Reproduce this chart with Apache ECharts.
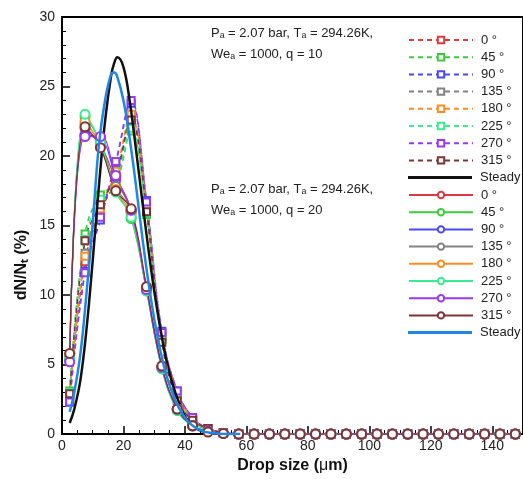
<!DOCTYPE html>
<html>
<head>
<meta charset="utf-8">
<script src="https://cdn.jsdelivr.net/npm/echarts@6/dist/echarts.min.js"></script>
<style>html,body{margin:0;padding:0;background:#fff}#c{width:523px;height:479px}</style>
</head>
<body>
<div id="c"></div>
<script>
// Drop size bins (µm)
const dropSize = [2.5,7.5,12.5,17.5,22.5,27.5,32.5,37.5,42.5,47.5,52.5,57.5,62.5,67.5,72.5,77.5,82.5,87.5,92.5,97.5,102.5,107.5,112.5,117.5,122.5,127.5,132.5,137.5,142.5,147.5];
const angleNames = ['0 °','45 °','90 °','135 °','180 °','225 °','270 °','315 °'];
const angleColors = ['#dc3a3e','#3acb3a','#4848f8','#828282','#ff8c20','#38ec90','#9a38f4','#7e3434'];
// q = 10 (dashed, squares) - first 12 bins, rest zero
const q10_0   = [2.8,12.4,16.0,18.3,22.6,16.3,7.0,2.9,1.0,0.4,0.1,0];
const q10_45  = [3.1,14.4,17.2,18.0,21.8,15.8,6.8,2.7,0.9,0.3,0.1,0];
const q10_90  = [2.3,11.7,15.4,19.5,23.8,16.8,7.4,3.1,1.2,0.4,0.1,0];
const q10_135 = [2.7,13.0,16.3,18.7,22.9,16.2,7.0,2.9,1.0,0.4,0.1,0];
const q10_180 = [2.6,12.8,16.2,18.9,23.0,16.4,7.1,3.0,1.0,0.4,0.1,0];
const q10_225 = [3.0,14.0,16.9,18.2,22.0,15.9,6.8,2.7,0.9,0.3,0.1,0];
const q10_270 = [2.3,11.6,15.6,19.6,24.0,16.7,7.3,3.1,1.2,0.4,0.1,0];
const q10_315 = [2.9,13.9,16.5,18.6,22.6,16.0,6.6,2.4,1.0,0.4,0.1,0];
// q = 20 (solid, circles)
const q20_0   = [5.5,22.0,20.8,18.3,16.0,10.5,4.8,1.8,0.6,0.2,0.05,0];
const q20_45  = [5.4,22.8,21.0,17.6,15.5,10.3,4.7,1.7,0.6,0.2,0.05,0];
const q20_90  = [5.3,21.5,21.3,18.5,16.1,10.4,4.8,1.8,0.6,0.2,0.05,0];
const q20_135 = [5.6,22.3,20.9,17.8,16.0,10.5,4.8,1.8,0.6,0.2,0.05,0];
const q20_180 = [5.7,22.5,20.7,17.6,15.8,10.4,4.8,1.8,0.6,0.2,0.05,0];
const q20_225 = [5.5,23.0,21.0,17.4,15.6,10.3,4.7,1.7,0.6,0.2,0.05,0];
const q20_270 = [5.2,21.4,21.4,18.6,16.1,10.4,4.8,1.8,0.6,0.2,0.05,0];
const q20_315 = [5.8,22.1,20.6,17.5,16.2,10.6,4.9,1.8,0.6,0.15,0.05,0];
// Steady curves
const steadyX   = [2.5,4,6,8,10,12,14,16,17,18,20,22,24,26,28,30,32,34,36,38,40,42,44,46,48,50,54,58];
const steadyQ10 = [0.8,1.8,3.9,7.6,12.5,17.8,22.5,25.8,26.7,27.1,26.4,24.0,20.6,17.0,13.5,10.3,7.6,5.3,3.6,2.3,1.3,0.7,0.35,0.18,0.08,0.03,0,0];
const steadyQ20 = [1.6,3.0,5.8,10.2,15.2,20.8,24.0,25.9,26.0,25.7,24.0,21.3,18.0,14.4,11.1,8.3,6.0,4.2,2.9,1.9,1.2,0.7,0.4,0.2,0.1,0.05,0,0];
// Axis ticks
const xTicks = {min:0, max:150, interval:20};
const yTicks = {min:0, max:30, interval:5};

const q10 = [q10_0,q10_45,q10_90,q10_135,q10_180,q10_225,q10_270,q10_315];
const q20 = [q20_0,q20_45,q20_90,q20_135,q20_180,q20_225,q20_270,q20_315];
function pad(v){ return dropSize.map((x,i)=>[x, i < v.length ? v[i] : 0]); }
const FONT = 'Liberation Sans, Arial, sans-serif';
const series = [];
q10.forEach((v,i)=>series.push({
  name: angleNames[i], type:'line', data: pad(v), smooth:0.4,
  symbol:'emptyRect', symbolSize:7, color: angleColors[i],
  lineStyle:{type:[5,4], width:1.5}, itemStyle:{borderWidth:1.2}, z:2
}));
series.push({name:'Steady', type:'line', data: steadyX.map((x,i)=>[x,steadyQ10[i]]), smooth:0.4,
  symbol:'none', color:'#111', lineStyle:{width:2.5}, z:3});
q20.forEach((v,i)=>series.push({
  name: angleNames[i]+' ', type:'line', data: pad(v), smooth:0.4,
  symbol:'emptyCircle', symbolSize:9, color: angleColors[i],
  lineStyle:{width:1.2}, itemStyle:{borderWidth:1.2}, z:4
}));
series.push({name:'Steady ', type:'line', data: steadyX.map((x,i)=>[x,steadyQ20[i]]), smooth:0.4,
  symbol:'none', color:'#1f86e8', lineStyle:{width:2.5}, z:5});

const legBase = {orient:'vertical', left:403, itemWidth:64, itemHeight:8, itemGap:3.2, selectedMode:false,
  textStyle:{fontFamily:FONT, fontSize:13, color:'#222', lineHeight:14, padding:[0,0,0,3]}};
const chart = echarts.init(document.getElementById('c'), null, {renderer:'canvas'});
chart.setOption({
  animation:false,
  backgroundColor:'#fff',
  grid:{left:62, top:17, width:469, height:424, show:true, borderColor:'#000', borderWidth:2},
  xAxis:{type:'value', min:xTicks.min, max:xTicks.max, interval:xTicks.interval,
    name:'Drop size ({m|μ}m)', nameLocation:'middle', nameGap:20,
    nameTextStyle:{fontFamily:FONT, fontSize:16, fontWeight:'bold', color:'#111',
      rich:{m:{fontFamily:FONT, fontSize:16, fontWeight:'normal', color:'#111'}}},
    axisLine:{lineStyle:{color:'#000', width:2}},
    axisTick:{inside:true, length:8, lineStyle:{color:'#000', width:1.5}},
    minorTick:{show:true, splitNumber:4, length:4, lineStyle:{color:'#000', width:1}},
    splitLine:{show:false},
    axisLabel:{fontFamily:FONT, fontSize:14, color:'#222', margin:5, showMaxLabel:false}},
  yAxis:{type:'value', min:yTicks.min, max:yTicks.max, interval:yTicks.interval,
    axisLine:{show:true, lineStyle:{color:'#000', width:2}},
    axisTick:{show:true, inside:true, length:8, lineStyle:{color:'#000', width:1.5}},
    minorTick:{show:true, splitNumber:5, length:4, lineStyle:{color:'#000', width:1}},
    splitLine:{show:false},
    axisLabel:{fontFamily:FONT, fontSize:14, color:'#222', margin:7}},
  legend:[
    Object.assign({}, legBase, {top:28, data:angleNames}),
    Object.assign({}, legBase, {top:165.6, itemHeight:3, data:[{name:'Steady', icon:'rect'}]}),
    Object.assign({}, legBase, {top:183, data:angleNames.map(n=>n+' ')}),
    Object.assign({}, legBase, {top:320.6, itemHeight:3, data:[{name:'Steady ', icon:'rect'}]})
  ],
  graphic:[
    {type:'text', left:211, top:27, style:{text:'P\u2090 = 2.07 bar, T\u2090 = 294.26K,', font:'13px '+FONT, fill:'#222'}},
    {type:'text', left:211, top:48, style:{text:'We\u2090 = 1000, q = 10', font:'13px '+FONT, fill:'#222'}},
    {type:'text', left:211, top:183, style:{text:'P\u2090 = 2.07 bar, T\u2090 = 294.26K,', font:'13px '+FONT, fill:'#222'}},
    {type:'text', left:211, top:204, style:{text:'We\u2090 = 1000, q = 20', font:'13px '+FONT, fill:'#222'}},
    {type:'text', x:22, y:265, rotation:Math.PI/2, style:{text:'dN/N\u209C (%)', font:'bold 16px '+FONT, fill:'#111', align:'center', verticalAlign:'middle'}}
  ],
  series: series
});
</script>
</body>
</html>
